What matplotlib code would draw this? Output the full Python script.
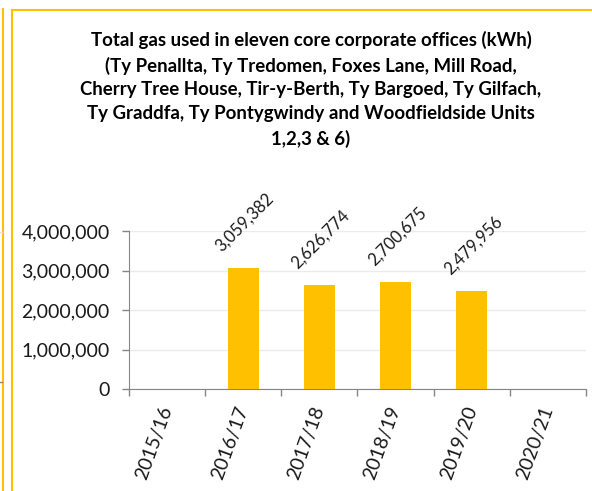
import matplotlib.pyplot as plt
from matplotlib.lines import Line2D
from matplotlib.ticker import FuncFormatter

# data
years = ['2015/16', '2016/17', '2017/18', '2018/19', '2019/20', '2020/21']
gas_kwh = [None, 3059382, 2626774, 2700675, 2479956, None]

title = ('Total gas used in eleven core corporate offices (kWh)\n'
         '(Ty Penallta, Ty Tredomen, Foxes Lane, Mill Road,\n'
         'Cherry Tree House, Tir-y-Berth, Ty Bargoed, Ty Gilfach,\n'
         'Ty Graddfa, Ty Pontygwindy and Woodfieldside Units\n'
         '1,2,3 & 6)')

plt.rcParams['font.family'] = ['Lato', 'DejaVu Sans']

fig = plt.figure(figsize=(5.92, 4.91), dpi=100)
ax = fig.add_axes([129 / 592, 1 - 389 / 491, 457 / 592, 158 / 491])

x = list(range(len(years)))
heights = [v if v is not None else 0 for v in gas_kwh]
ax.bar(x, heights, width=0.41, color='#FFC000', zorder=3)

for xi, v in zip(x, gas_kwh):
    if v is None:
        continue
    ax.annotate(f'{v:,}', (xi, v), xytext=(1, 10), textcoords='offset points',
                rotation=45, ha='center', va='bottom', fontsize=12,
                color='#1a1a1a', annotation_clip=False)

ax.set_xlim(-0.5, len(years) - 0.5)
ax.set_ylim(0, 4000000)
ax.set_yticks([0, 1000000, 2000000, 3000000, 4000000])
ax.yaxis.set_major_formatter(FuncFormatter(lambda v, p: f'{int(v):,}'))
ax.grid(axis='y', color='#EBEBEB', linewidth=1, zorder=0)

# category boundaries as tick marks, labels at centres
ax.set_xticks([i - 0.5 for i in range(len(years) + 1)])
ax.set_xticklabels([])
ax.set_xticks(x, minor=True)
ax.set_xticklabels(years, minor=True, rotation=70, ha='right', va='center',
                   rotation_mode='anchor', fontsize=14, color='#1a1a1a')
ax.tick_params(axis='x', which='minor', length=0, pad=13)
ax.tick_params(axis='x', which='major', length=5, color='#868686', width=1)
ax.tick_params(axis='y', length=5, color='#868686', width=1, pad=9,
               labelsize=14, labelcolor='#1a1a1a')

for s in ['top', 'right']:
    ax.spines[s].set_visible(False)
ax.spines['left'].set_color('#868686')
ax.spines['bottom'].set_color('#868686')

fig.text(311 / 592, 1 - 31 / 491, title, ha='center', va='top',
         fontsize=13.4, fontweight='bold', color='#000000', linespacing=1.49)

# chart borders (this chart and the edge of the neighbouring one)
fig.add_artist(Line2D([12 / 592, 12 / 592], [0, 1 - 10 / 491],
                      color='#FFC000', linewidth=1.5))
fig.add_artist(Line2D([12 / 592, 1], [1 - 10 / 491, 1 - 10 / 491],
                      color='#FFC000', linewidth=1.5))
fig.add_artist(Line2D([3 / 592, 3 / 592], [0, 1 - 9 / 491],
                      color='#FFC000', linewidth=1.5))
fig.add_artist(Line2D([0, 2 / 592], [1 - 232 / 491, 1 - 232 / 491],
                      color='#E0E0E0', linewidth=1))
fig.add_artist(Line2D([0, 2 / 592], [1 - 382 / 491, 1 - 382 / 491],
                      color='#868686', linewidth=1))

fig.savefig('out.png', dpi=100)
